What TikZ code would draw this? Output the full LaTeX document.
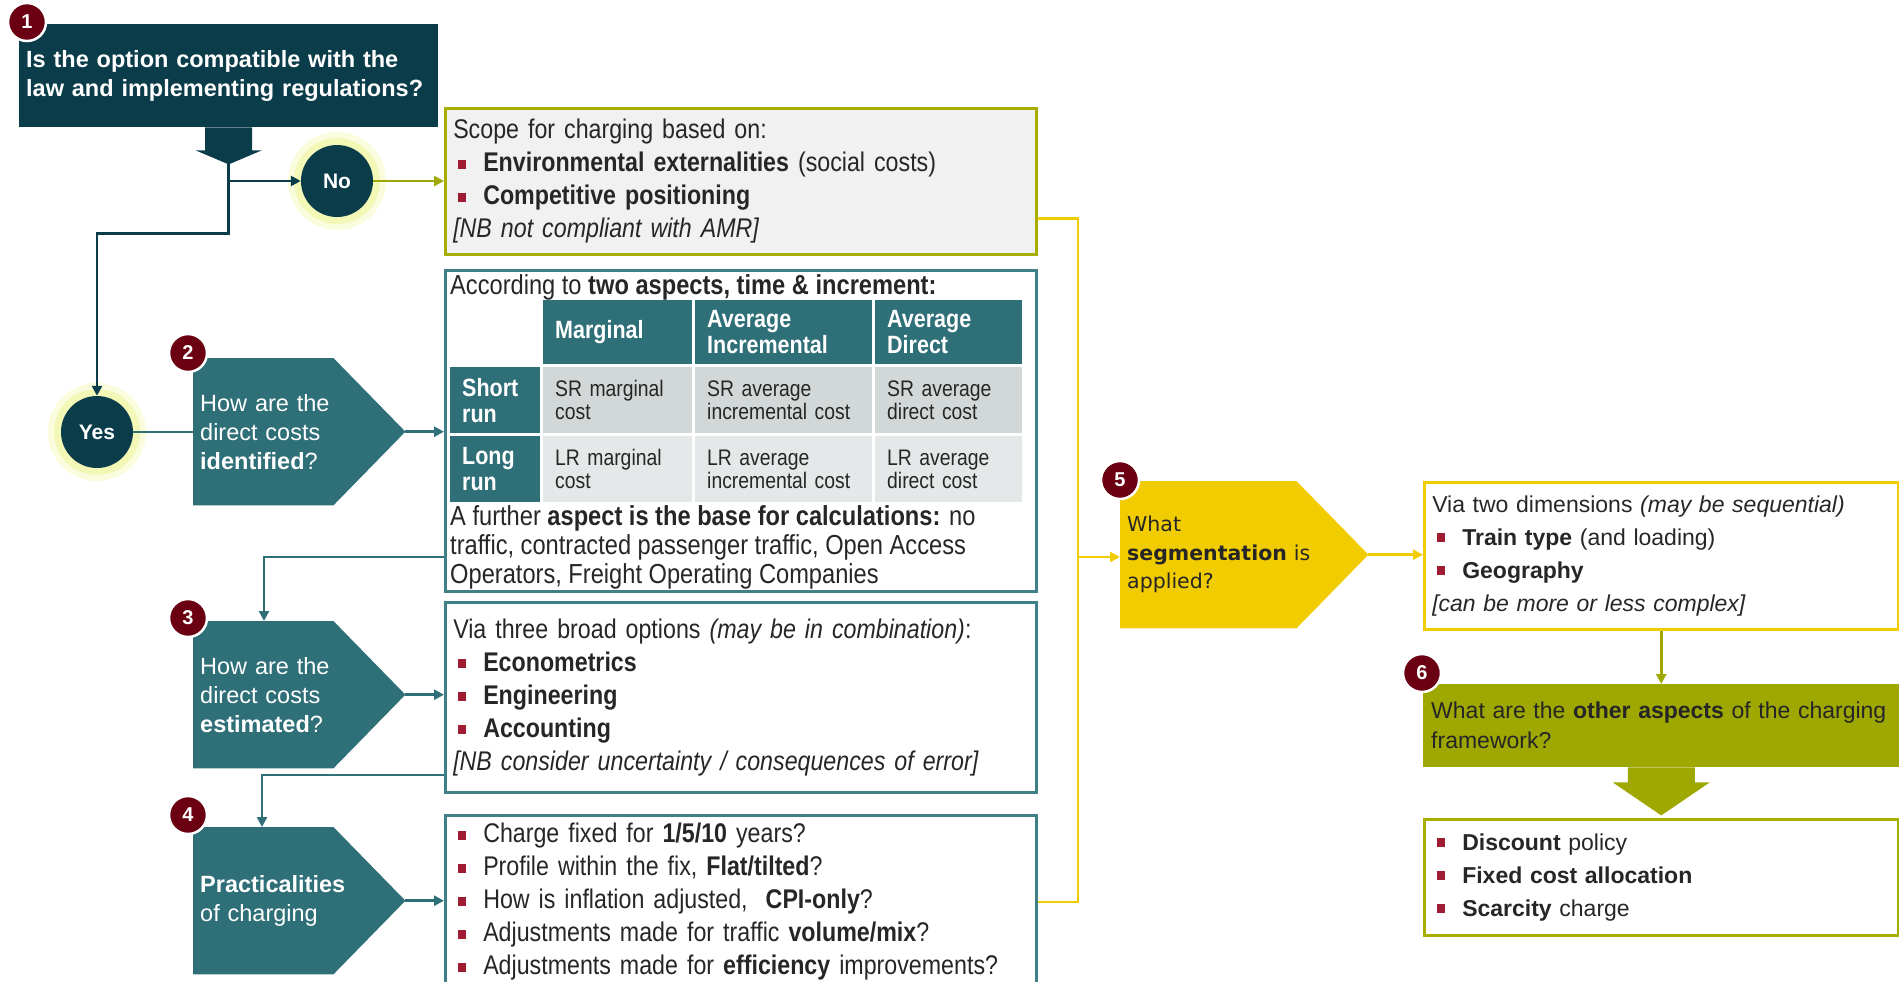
\documentclass[tikz,border=0pt]{standalone}
\usepackage{fontspec}
\setmainfont{Liberation Sans}
\newfontfamily\narrow[FakeStretch=0.86]{Liberation Sans}
\newfontfamily\verd{DejaVu Sans}
\usetikzlibrary{arrows.meta,positioning,calc,backgrounds}

\definecolor{navy}{HTML}{0B3C4A}
\definecolor{tealq}{HTML}{2F6F78}
\definecolor{tealb}{HTML}{3E7F88}
\definecolor{yel}{HTML}{F1CC00}
\definecolor{oliv}{HTML}{9EA800}
\definecolor{olivb}{HTML}{A8AE00}
\definecolor{badgered}{HTML}{6B0012}
\definecolor{bulred}{HTML}{A01C34}
\definecolor{cellA}{HTML}{D2D7D8}
\definecolor{cellB}{HTML}{E5E8E8}
\definecolor{scopebg}{HTML}{F1F1F1}
\definecolor{glowc}{HTML}{E9F27C}
\definecolor{txt}{HTML}{262626}

\newcommand\fsz[2]{\fontsize{#1pt}{#2pt}\selectfont}
\newcommand\bul{\makebox[30pt][l]{\hspace{5pt}\textcolor{bulred}{\rule[3pt]{8pt}{9pt}}}}

\begin{document}
\begin{tikzpicture}[x=1pt, y=-1pt,
  box/.style={draw=tealb, line width=2.5pt, fill=white, anchor=north west, inner xsep=8pt, align=left, text=txt, font=\narrow\fsz{27}{33}},
  qbox/.style={anchor=north west, minimum width=212pt, minimum height=147pt, inner xsep=7pt, text width=198pt, align=left, text=white, font=\fsz{23.5}{29}},
  yesno/.style={circle, fill=navy, minimum size=72pt, inner sep=0pt, text=white, font=\bfseries\fsz{21}{21},
    preaction={draw=glowc!25, line width=26pt}, preaction={draw=glowc!55, line width=14pt}},
  badge/.style={circle, fill=badgered, draw=white, line width=2.5pt, minimum size=38pt, inner sep=0pt, text=white, font=\bfseries\fsz{20}{20}},
  hcell/.style={anchor=north west, fill=tealq, text=white, font=\narrow\bfseries\fsz{25}{26}, align=left, inner xsep=12pt, minimum height=64pt},
  cell/.style={anchor=north west, text=txt, font=\narrow\fsz{22.5}{22.5}, align=left, inner xsep=12pt, minimum height=66pt},
  arrow/.style={-{Triangle[length=10pt,width=10pt]}},
  navyline/.style={draw=navy, line width=2.5pt},
  tealline/.style={draw=tealq, line width=2.5pt},
  yelline/.style={draw=yel, line width=2.5pt},
  olivline/.style={draw=oliv, line width=2.5pt}
]
\useasboundingbox (0,0) rectangle (1899,982);

% 1: legal question
\node[anchor=north west, fill=navy, minimum width=419pt, minimum height=103pt, text width=405pt, inner xsep=7pt,
  align=left, text=white, font=\bfseries\fsz{23.5}{29}] (law) at (19,24) {Is the option compatible with the\\law and implementing regulations?};
\fill[navy] ($(law.south)+(-23.5,0)$) -- ++(0,23) -- ++(-9.5,0) -- ($(law.south)+(0,37)$)
  -- ($(law.south)+(33,23)$) -- ++(-9.5,0) -- ++(0,-23) -- cycle;
\coordinate (split) at ($(law.south)+(0,37)$);

\node[yesno] (no) at (337,181) {No};
\node[yesno] (yes) at (97,432) {Yes};
\draw[navyline, arrow] (split) |- (no);
\draw[navyline, arrow] (split) -- ++(0,69) -| (yes);

\node[box, draw=olivb, fill=scopebg, minimum width=591pt, minimum height=146pt, text width=575pt] (scope) at (444,107)
  {Scope for charging based on:\\
   \bul\textbf{Environmental externalities} (social costs)\\
   \bul\textbf{Competitive positioning}\\
   \textit{[NB not compliant with AMR]}};
\draw[olivline, arrow] (no) -- (no -| scope.west);

% 2: identification table
\node[box, minimum width=591pt, minimum height=321pt] (tbl) at (444,269) {};
\node[anchor=west, inner sep=0pt, text=txt, font=\narrow\fsz{27.5}{29}] (tblhead) at (450,287) {According to \textbf{two aspects, time \& increment:}};
\node[hcell, text width=125pt] (hMarg) at (543,300) {Marginal};
\node[hcell, text width=153pt] (hIncr) at (695,300) {Average\\Incremental};
\node[hcell, text width=123pt] (hDir) at (875,300) {Average\\Direct};
\node[hcell, text width=66pt, minimum height=66pt] (rShort) at (450,367) {Short\\run};
\node[hcell, text width=66pt, minimum height=66pt] (rLong) at (450,436) {Long\\run};
\node[cell, fill=cellA, text width=125pt] (sMarg) at (543,367) {SR marginal\\cost};
\node[cell, fill=cellA, text width=153pt] (sIncr) at (695,367) {SR average\\incremental cost};
\node[cell, fill=cellA, text width=123pt] (sDir) at (875,367) {SR average\\direct cost};
\node[cell, fill=cellB, text width=125pt] (lMarg) at (543,436) {LR marginal\\cost};
\node[cell, fill=cellB, text width=153pt] (lIncr) at (695,436) {LR average\\incremental cost};
\node[cell, fill=cellB, text width=123pt] (lDir) at (875,436) {LR average\\direct cost};
\node[anchor=north west, inner sep=0pt, align=left, text=txt, font=\narrow\fsz{27.5}{29}] (tblfoot) at (450,505)
  {A further \textbf{aspect is the base for calculations:} no\\traffic, contracted passenger traffic, Open Access\\Operators, Freight Operating Companies};

\node[qbox] (q2) at (193,358) {How are the\\direct costs\\\textbf{identified}?};
\draw[tealline] (yes) -- (yes -| q2.west);
\draw[tealline, arrow] (q2.east) -- (q2.east -| tbl.west);

% 3: estimation
\node[box, minimum width=591pt, minimum height=190pt, text width=575pt] (opt) at (444,601)
  {Via three broad options \textit{(may be in combination)}:\\
   \bul\textbf{Econometrics}\\
   \bul\textbf{Engineering}\\
   \bul\textbf{Accounting}\\
   \textit{[NB consider uncertainty / consequences of error]}};
\node[qbox] (q3) at (193,621) {How are the\\direct costs\\\textbf{estimated}?};
\coordinate (t3) at (264,557);
\draw[tealline, arrow] (t3 -| tbl.west) -| (t3 |- q3.north);
\draw[tealline, arrow] (q3.east) -- (q3.east -| opt.west);

% 4: practicalities
\node[box, minimum width=591pt, minimum height=173pt, text width=575pt] (prac) at (444,814)
  {\bul Charge fixed for \textbf{1/5/10} years?\\
   \bul Profile within the fix, \textbf{Flat/tilted}?\\
   \bul How is inflation adjusted,\ \ \textbf{CPI-only}?\\
   \bul Adjustments made for traffic \textbf{volume/mix}?\\
   \bul Adjustments made for \textbf{efficiency} improvements?};
\node[qbox] (q4) at (193,827) {\textbf{Practicalities}\\of charging};
\coordinate (t4) at (262,775);
\draw[tealline, arrow] (t4 -| opt.west) -| (t4 |- q4.north);
\draw[tealline, arrow] (q4.east) -- (q4.east -| prac.west);

% 5: segmentation
\coordinate (bus) at (1078,557);
\draw[yelline] ([yshift=-37pt]scope.east) -| (bus) |- (prac.east);
\node[qbox, minimum width=248pt, text width=234pt, text=txt, font=\verd\fsz{20.5}{28.5}] (q5) at (1120,481) {What\\\textbf{segmentation} is\\applied?};
\draw[yelline, arrow] (bus) -- (bus -| q5.west);
\node[box, draw=yel, minimum width=474pt, minimum height=147pt, text width=458pt, font=\fsz{23}{33}] (via) at (1423,481)
  {Via two dimensions \textit{(may be sequential)}\\
   \bul\textbf{Train type} (and loading)\\
   \bul\textbf{Geography}\\
   \textit{[can be more or less complex]}};
\draw[yelline, arrow] (q5.east) -- (q5.east -| via.west);

% 6: other aspects
\node[anchor=north west, fill=oliv, minimum width=492pt, minimum height=83pt, text width=476pt, inner xsep=8pt,
  align=left, text=txt, font=\fsz{23}{30}] (q6) at (1423,684) {What are the \textbf{other aspects} of the charging\\framework?};
\draw[olivline, arrow] (via.south) -- (via.south |- q6.north);
\node[box, draw=olivb, minimum width=474pt, minimum height=116pt, text width=458pt, font=\fsz{23}{33}] (disc) at (1423,818)
  {\bul\textbf{Discount} policy\\
   \bul\textbf{Fixed cost allocation}\\
   \bul\textbf{Scarcity} charge};
\coordinate (b6) at (via.south |- q6.south);
\fill[oliv] ($(b6)+(-33.5,0)$) -- ++(0,15) -- ++(-15,0) -- ($(b6)+(0,48)$)
  -- ($(b6)+(48.5,15)$) -- ++(-15,0) -- ++(0,-15) -- cycle;

\begin{scope}[on background layer]
  \foreach \q/\c in {q2/tealq, q3/tealq, q4/tealq, q5/yel}
    \fill[\c] (\q.north west) -- ($(\q.north east)+(-72,0)$) -- (\q.east)
      -- ($(\q.south east)+(-72,0)$) -- (\q.south west) -- cycle;
\end{scope}

% step badges
\node[badge] (n1) at (27,22) {1};
\node[badge] (n2) at (188,353) {2};
\node[badge] (n3) at (188,618) {3};
\node[badge] (n4) at (188,815) {4};
\node[badge] (n5) at (1120,480) {5};
\node[badge] (n6) at (1422,673) {6};
\end{tikzpicture}
\end{document}
